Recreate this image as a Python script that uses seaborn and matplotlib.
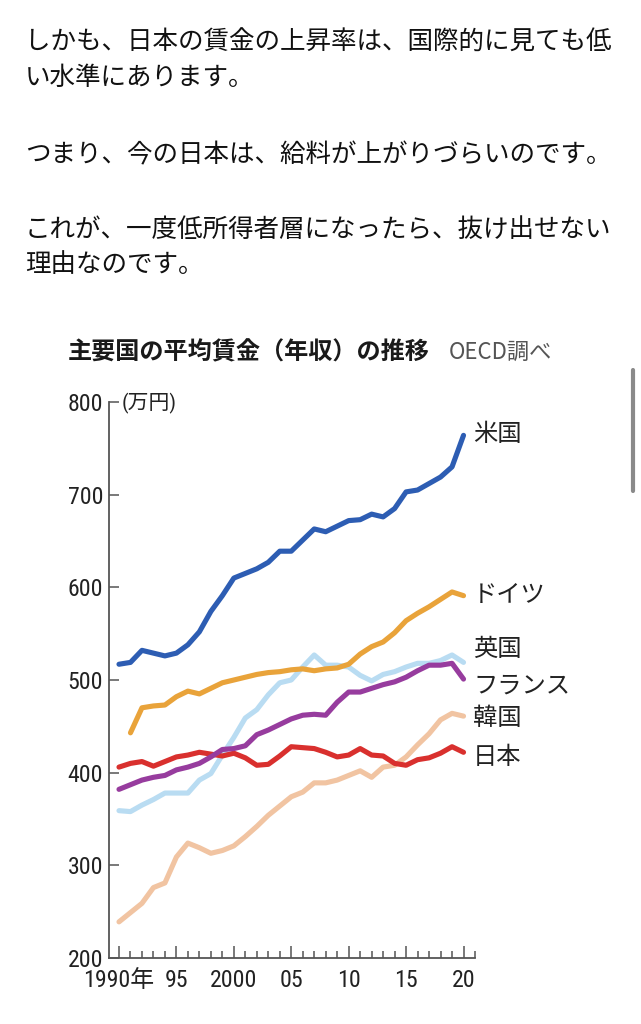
import numpy as np
import pandas as pd
import matplotlib
matplotlib.use('Agg')
import matplotlib.pyplot as plt
from matplotlib import font_manager
from matplotlib.lines import Line2D
import seaborn as sns

# ---------------- data ----------------
years = list(range(1990, 2021))
usa = [517, 519, 532, 529, 526, 529, 538, 552, 574, 591, 610, 615, 620, 627, 639, 639,
       651, 663, 660, 666, 672, 673, 679, 676, 685, 703, 705, 712, 719, 730, 764]
germany = [np.nan, 443, 470, 472, 473, 482, 488, 485, 491, 497, 500, 503, 506, 508, 509, 511,
           512, 510, 512, 513, 517, 528, 536, 541, 551, 564, 572, 579, 587, 595, 591]
uk = [359, 358, 365, 371, 378, 378, 378, 392, 399, 419, 438, 459, 468, 484, 497, 500,
      514, 527, 516, 516, 514, 505, 499, 506, 509, 514, 518, 518, 521, 527, 519]
france = [382, 387, 392, 395, 397, 403, 406, 410, 417, 425, 426, 429, 441, 446, 452, 458,
          462, 463, 462, 476, 487, 487, 491, 495, 498, 503, 510, 516, 516, 518, 501]
japan = [406, 410, 412, 407, 412, 417, 419, 422, 420, 418, 421, 416, 408, 409, 418, 428,
         427, 426, 422, 417, 419, 426, 419, 418, 410, 408, 414, 416, 421, 428, 422]
korea = [239, 249, 259, 276, 281, 309, 324, 319, 313, 316, 321, 331, 342, 354, 364, 374,
         379, 389, 389, 392, 397, 402, 395, 406, 408, 417, 430, 442, 457, 464, 461]

country_names = ['英国', '韓国', '日本', 'フランス', 'ドイツ', '米国']   # drawing order
series = [uk, korea, japan, france, germany, usa]
colors = ['#b9dcf2', '#f1c4a2', '#d9302e', '#973c9e', '#e9a33a', '#2d5db3']

xtick_values = [1990, 1995, 2000, 2005, 2010, 2015, 2020]
xtick_labels = ['1990年', '95', '2000', '05', '10', '15', '20']
ytick_values = [200, 300, 400, 500, 600, 700, 800]

title = '主要国の平均賃金（年収）の推移'
source = 'OECD調べ'
unit = '(万円)'
paragraph_lines = ['しかも、日本の賃金の上昇率は、国際的に見ても低',
                   'い水準にあります。',
                   'つまり、今の日本は、給料が上がりづらいのです。',
                   'これが、一度低所得者層になったら、抜け出せない',
                   '理由なのです。']

# label vertical positions (layout, data units)
label_pos = {'米国': 766, 'ドイツ': 592, '英国': 534, 'フランス': 494, '韓国': 459, '日本': 417}

rows = []
for name, vals in zip(country_names, series):
    for y, v in zip(years, vals):
        rows.append({'year': y, 'wage': v, 'country': name})
df = pd.DataFrame(rows)

# ---------------- style ----------------
sns.set_style('ticks')
plt.rcParams['font.family'] = ['Liberation Sans', 'Noto Sans CJK JP']
cjk = ['Noto Sans CJK JP', 'DejaVu Sans']

# pick a condensed face for the numerals if one is installed
ttf = font_manager.fontManager.ttflist
names = {f.name for f in ttf}
num_name, num_stretch = 'Liberation Sans', 'normal'
for p in ['Liberation Sans Narrow', 'Roboto Condensed', 'Open Sans Condensed',
          'Noto Sans Condensed', 'Arial Narrow']:
    if p in names:
        num_name = p
        break
else:
    for f in ttf:
        if (f.name in ('Roboto', 'Noto Sans', 'Open Sans', 'Liberation Sans', 'Lato', 'Inter')
                and str(f.stretch) in ('condensed', 'semi-condensed')
                and str(f.style) == 'normal' and f.weight in (400, 'normal', 'regular')):
            num_name, num_stretch = f.name, str(f.stretch)
            break
num_family = [num_name, 'Noto Sans CJK JP']

fig = plt.figure(figsize=(6.41, 10.24), dpi=100)
renderer = fig.canvas.get_renderer()
probe = fig.text(0, 0, '2000', fontsize=10, family=num_family, fontstretch=num_stretch)
bb = probe.get_window_extent(renderer)
probe.remove()
num_size = min(19.0, max(14.0, 10 * 46.5 / max(bb.width, 1)))

ax = fig.add_axes([109 / 641, 1 - 958 / 1024, 366 / 641, 556 / 1024])

sns.lineplot(data=df, x='year', y='wage', hue='country', hue_order=country_names,
             palette=dict(zip(country_names, colors)), linewidth=3.7, estimator=None,
             sort=False, legend=False, ax=ax, solid_capstyle='round', solid_joinstyle='round')

ax.set_xlim(1989.13, 2021.0)
ax.set_ylim(200, 800)
ax.set_xlabel('')
ax.set_ylabel('')
for s in ['top', 'right']:
    ax.spines[s].set_visible(False)
for s in ['left', 'bottom']:
    ax.spines[s].set_color('#555555')
    ax.spines[s].set_linewidth(1.3)

ax.set_xticks(xtick_values)
ax.set_xticks(list(range(1990, 2022)), minor=True)
ax.set_xticklabels(xtick_labels)
ax.set_yticks(ytick_values)
ax.set_yticklabels([str(v) for v in ytick_values])
ax.tick_params(axis='x', which='major', direction='in', length=9, width=1.1, color='#555555',
               bottom=True, top=False, pad=8, labelsize=num_size, labelcolor='#222222')
ax.tick_params(axis='x', which='minor', direction='in', length=4.8, width=1.1, color='#555555',
               bottom=True, top=False)
ax.tick_params(axis='y', which='major', direction='in', length=7, width=1.1, color='#555555',
               left=True, right=False, pad=4.3, labelsize=num_size, labelcolor='#222222')
for lab in ax.get_xticklabels() + ax.get_yticklabels():
    lab.set_fontfamily(num_family)
    lab.set_fontstretch(num_stretch)

for name in country_names:
    ax.text(2020.84, label_pos[name], name, ha='left', va='center', fontsize=17.5,
            family=cjk, color='#222222', clip_on=False)

# unit label
fig.text(122 / 641, 1 - 403 / 1024, unit, ha='left', va='center', fontsize=15,
         family=num_family, fontstretch=num_stretch, color='#222222')

# title & source
fig.text(68 / 641, 1 - 352 / 1024, title, ha='left', va='center', fontsize=17.4,
         fontweight='bold', family=cjk, color='#1a1a1a')
fig.text(449 / 641, 1 - 352 / 1024, source, ha='left', va='center', fontsize=16,
         family=cjk, color='#555555')

# paragraph text
line_y = [43, 78, 155, 230, 265]
for t, yy in zip(paragraph_lines, line_y):
    fig.text(25 / 641, 1 - yy / 1024, t, ha='left', va='center', fontsize=18.4,
             family=cjk, color='#111111')

# scrollbar of the screenshot
fig.add_artist(Line2D([633 / 641, 633 / 641], [1 - 370 / 1024, 1 - 491 / 1024],
                      transform=fig.transFigure, color='#8a8a8a', linewidth=3,
                      solid_capstyle='round'))

fig.savefig('out.png', dpi=100, facecolor='white')
